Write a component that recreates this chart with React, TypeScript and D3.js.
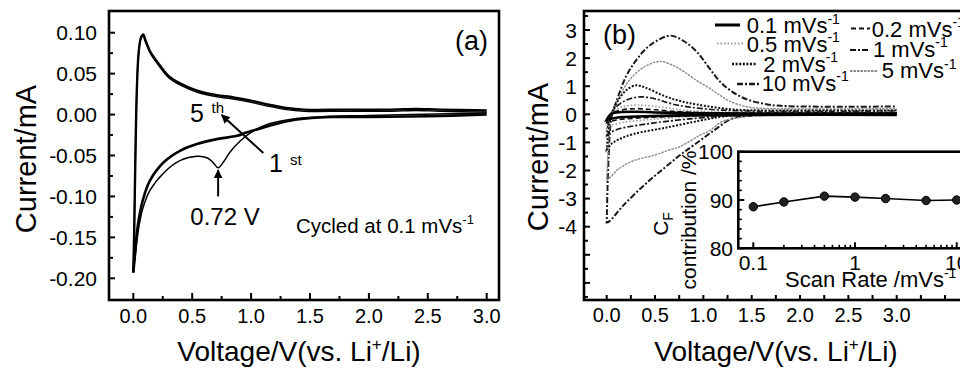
import React from 'react';
import * as d3 from 'd3';

// ---------- Panel (a) data ----------
const aXTicks = [0, 0.5, 1, 1.5, 2, 2.5, 3];
const aXMinor = [0.25, 0.75, 1.25, 1.75, 2.25, 2.75];
const aYTicks = [0.1, 0.05, 0, -0.05, -0.1, -0.15, -0.2];
const aYMinor = [0.075, 0.025, -0.025, -0.075, -0.125, -0.175];

const anodic5: [number, number][] = [
  [0.0, -0.193], [0.008, -0.14], [0.018, -0.05], [0.03, 0.03], [0.045, 0.075], [0.065, 0.094],
  [0.085, 0.098], [0.1, 0.092], [0.14, 0.078], [0.2, 0.065], [0.3, 0.047], [0.4, 0.038],
  [0.55, 0.029], [0.7, 0.024], [0.85, 0.021], [1.0, 0.017], [1.15, 0.012], [1.3, 0.008],
  [1.45, 0.006], [1.8, 0.006], [2.2, 0.006], [2.4, 0.007], [2.6, 0.006], [3.0, 0.005],
];
const anodic1: [number, number][] = [
  [0.0, -0.19], [0.008, -0.14], [0.018, -0.05], [0.03, 0.03], [0.045, 0.074], [0.065, 0.093],
  [0.085, 0.096], [0.1, 0.09], [0.14, 0.076], [0.2, 0.063], [0.3, 0.045], [0.4, 0.036],
  [0.55, 0.027], [0.7, 0.022], [0.85, 0.019], [1.0, 0.015], [1.15, 0.01], [1.3, 0.006],
  [1.45, 0.004], [1.8, 0.004], [2.2, 0.004], [2.4, 0.005], [2.6, 0.004], [3.0, 0.003],
];
const cathodic5: [number, number][] = [
  [3.0, 0.0], [2.5, -0.002], [2.0, -0.003], [1.67, -0.003], [1.39, -0.006], [1.25, -0.01],
  [1.1, -0.016], [0.96, -0.022], [0.88, -0.026], [0.71, -0.03], [0.54, -0.036], [0.4, -0.044],
  [0.26, -0.058], [0.14, -0.081], [0.08, -0.105], [0.05, -0.125], [0.03, -0.145],
  [0.015, -0.17], [0.0, -0.193],
];
const cathodic1: [number, number][] = [
  [3.0, 0.002], [2.0, -0.001], [1.67, -0.002], [1.45, -0.004], [1.33, -0.006], [1.16, -0.011],
  [1.02, -0.02], [0.91, -0.032], [0.82, -0.046], [0.77, -0.057], [0.72, -0.065], [0.68, -0.059],
  [0.63, -0.053], [0.54, -0.051], [0.4, -0.056], [0.26, -0.071], [0.14, -0.093], [0.08, -0.115],
  [0.05, -0.135], [0.03, -0.155], [0.01, -0.18], [0.0, -0.19],
];

// ---------- Panel (b) data ----------
const bXTicks = [0, 0.5, 1, 1.5, 2, 2.5, 3];
const bXMinor = [0.25, 0.75, 1.25, 1.75, 2.25, 2.75, 3.25, 3.5];
const bYTicks = [3, 2, 1, 0, -1, -2, -3, -4];
const bYUnlabeled = [-5, -6];
const scanRates = ['0.1', '0.2', '0.5', '1', '2', '5', '10'];

const anodicB: Record<string, [number, number][]> = {
  '0.1': [[0, -0.2], [0.05, 0.02], [0.15, 0.08], [0.3, 0.09], [0.6, 0.06], [1.0, 0.04], [1.5, 0.03], [3.0, 0.03]],
  '0.2': [[0, -0.3], [0.05, 0.02], [0.15, 0.15], [0.3, 0.2], [0.5, 0.16], [0.8, 0.08], [1.2, 0.05], [3.0, 0.05]],
  '0.5': [[0, -0.5], [0.05, 0.05], [0.15, 0.25], [0.3, 0.33], [0.5, 0.28], [0.8, 0.15], [1.2, 0.08], [3.0, 0.07]],
  '1': [[0, -0.75], [0.03, -0.1], [0.08, 0.2], [0.2, 0.5], [0.35, 0.62], [0.5, 0.55], [0.7, 0.35], [1.0, 0.2], [1.4, 0.12], [3.0, 0.12]],
  '2': [[0, -1.25], [0.03, -0.3], [0.06, 0.1], [0.12, 0.5], [0.2, 0.85], [0.3, 1.03], [0.4, 0.95], [0.59, 0.66], [0.75, 0.48], [0.93, 0.35], [1.28, 0.18], [1.6, 0.14], [3.0, 0.14]],
  '5': [[0, -2.35], [0.02, -1.0], [0.05, 0.0], [0.1, 0.4], [0.22, 1.15], [0.35, 1.6], [0.47, 1.82], [0.56, 1.88], [0.68, 1.75], [0.8, 1.52], [0.93, 1.2], [1.06, 0.94], [1.17, 0.68], [1.27, 0.47], [1.48, 0.25], [1.8, 0.2], [3.0, 0.2]],
  '10': [[0, -3.85], [0.02, -1.5], [0.05, -0.1], [0.1, 0.45], [0.2, 1.35], [0.3, 1.9], [0.41, 2.35], [0.52, 2.62], [0.66, 2.8], [0.8, 2.6], [0.93, 2.23], [1.05, 1.7], [1.17, 1.17], [1.3, 0.8], [1.45, 0.53], [1.65, 0.36], [1.8, 0.3], [2.5, 0.27], [3.0, 0.28]],
};
const cathodicB: Record<string, [number, number][]> = {
  '0.1': [[3.0, -0.02], [1.5, -0.02], [0.8, -0.04], [0.4, -0.07], [0.1, -0.12], [0, -0.2]],
  '0.2': [[3.0, -0.02], [1.2, -0.03], [0.8, -0.06], [0.4, -0.12], [0.1, -0.2], [0, -0.3]],
  '0.5': [[3.0, -0.01], [1.2, -0.04], [0.8, -0.1], [0.4, -0.2], [0.15, -0.3], [0.03, -0.42], [0, -0.5]],
  '1': [[3.0, 0.0], [1.4, -0.03], [1.0, -0.12], [0.7, -0.22], [0.4, -0.35], [0.15, -0.5], [0.03, -0.65], [0, -0.75]],
  '2': [[3.0, 0.02], [1.5, -0.02], [1.2, -0.08], [0.96, -0.23], [0.62, -0.47], [0.28, -0.7], [0.12, -0.9], [0.05, -1.05], [0, -1.25]],
  '5': [[3.0, 0.03], [1.6, -0.02], [1.4, -0.1], [1.2, -0.25], [1.06, -0.59], [0.96, -0.75], [0.76, -1.15], [0.62, -1.3], [0.5, -1.45], [0.28, -1.65], [0.12, -1.95], [0.05, -2.2], [0, -2.35]],
  '10': [[3.0, 0.05], [2.0, 0.0], [1.5, -0.05], [1.3, -0.15], [1.1, -0.6], [0.9, -1.1], [0.76, -1.45], [0.6, -1.9], [0.41, -2.45], [0.17, -3.25], [0.03, -3.8], [0, -3.85]],
};

// ---------- Inset data ----------
const insetRates = [0.1, 0.2, 0.5, 1, 2, 5, 10];
const insetCF = [88.6, 89.6, 90.8, 90.6, 90.3, 89.9, 90.0];
const insetYTicks = [100, 90, 80];
const insetXTicks = [0.1, 1, 10];

const FONT = '"Liberation Sans", Arial, Helvetica, sans-serif';

const styleB: Record<string, { dash?: string; color: string; width: number }> = {
  '0.1': { color: '#000', width: 2.6 },
  '0.2': { color: '#111', width: 1.6, dash: '5,3' },
  '0.5': { color: '#9a9a9a', width: 1.6, dash: '1.5,2' },
  '1': { color: '#111', width: 1.6, dash: '6,2,2,2' },
  '2': { color: '#111', width: 2.0, dash: '2,1.6' },
  '5': { color: '#8c8c8c', width: 1.4, dash: '2.5,1' },
  '10': { color: '#1a1a1a', width: 2.0, dash: '6,2,2,2' },
};

function SupText(props: { x: number; y: number; base: string; sup: string; size: number; supSize?: number; anchor?: string }) {
  const { x, y, base, sup, size } = props;
  const supSize = props.supSize ?? Math.round(size * 0.62);
  return (
    <text x={x} y={y} fontSize={size} fontFamily={FONT} textAnchor={props.anchor ?? 'start'} fill="#000">
      {base}
      <tspan dy={-size * 0.42} fontSize={supSize}>{sup}</tspan>
    </text>
  );
}

export default function App() {
  // Panel a scales
  const xA = d3.scaleLinear().domain([0, 3]).range([133.3, 486.7]);
  const yA = d3.scaleLinear().domain([-0.2, 0.1]).range([278.3, 32.7]);
  const lineA = d3.line<[number, number]>().x(d => xA(d[0])).y(d => yA(d[1])).curve(d3.curveCatmullRom.alpha(0.5));

  // Panel b scales
  const xB = d3.scaleLinear().domain([0, 3]).range([606.7, 896.7]);
  const yB = d3.scaleLinear().domain([-4, 3]).range([226.7, 30]);
  const lineB = d3.line<[number, number]>().x(d => xB(d[0])).y(d => yB(d[1])).curve(d3.curveCatmullRom.alpha(0.5));

  // Inset scales
  const xI = d3.scaleLog().domain([0.1, 10]).range([753.3, 956.7]);
  const yI = d3.scaleLinear().domain([80, 100]).range([248.3, 151.7]);
  const lineI = d3.line<number>().x((_, i) => xI(insetRates[i])).y(d => yI(d));
  const insetMinorX: number[] = [];
  [0.1, 1].forEach(dec => { for (let k = 2; k <= 9; k++) insetMinorX.push(dec * k); });
  insetMinorX.push(20);
  const insetMinorY = d3.range(82, 100, 2).filter(v => v !== 90);

  const aFrame = { x: 109, y: 11, w: 390, h: 289 };
  const bFrame = { x: 584, y: 11, w: 400, h: 289 };
  const iFrame = { x: 738.3, y: 151.7, w: 240, h: 96.6 };

  const bMinorY = d3.range(3.5, -6.6, -0.5).filter(v => !Number.isInteger(v));

  const legendItems = [
    { r: '0.1', x1: 715, x2: 740, ly: 25, tx: 746.7, ty: 33.3 },
    { r: '0.5', x1: 717, x2: 744, ly: 43.5, tx: 746.7, ty: 51.7 },
    { r: '2', x1: 732, x2: 757, ly: 64, tx: 763.3, ty: 71.7 },
    { r: '10', x1: 737, x2: 760, ly: 84, tx: 761.7, ty: 90.7 },
    { r: '0.2', x1: 851, x2: 870, ly: 28.5, tx: 871.7, ty: 36.7 },
    { r: '1', x1: 850, x2: 869, ly: 50, tx: 873, ty: 56.7 },
    { r: '5', x1: 850, x2: 877, ly: 71, tx: 881.7, ty: 78.3 },
  ];

  return (
    <svg width={960} height={369} style={{ position: 'absolute', left: 0, top: 0, background: '#fff' }} fontFamily={FONT}>
      <defs>
        <marker id="arrowHead" viewBox="0 0 10 10" refX="9" refY="5" markerWidth="4.5" markerHeight="4.5" orient="auto-start-reverse">
          <path d="M0,0 L10,5 L0,10 z" fill="#000" />
        </marker>
        <clipPath id="clipB"><rect x={0} y={0} width={960} height={369} /></clipPath>
      </defs>
      <rect x={0} y={0} width={960} height={369} fill="#fff" />

      {/* ===== Panel (a) ===== */}
      <rect x={aFrame.x} y={aFrame.y} width={aFrame.w} height={aFrame.h} fill="none" stroke="#000" strokeWidth={2.6} />
      {aXTicks.map(v => (
        <g key={'axt' + v}>
          <line x1={xA(v)} x2={xA(v)} y1={aFrame.y + aFrame.h} y2={aFrame.y + aFrame.h - 7} stroke="#000" strokeWidth={2} />
          <text x={xA(v)} y={323} fontSize={20} textAnchor="middle">{v.toFixed(1)}</text>
        </g>
      ))}
      {aXMinor.map(v => (
        <line key={'axm' + v} x1={xA(v)} x2={xA(v)} y1={aFrame.y + aFrame.h} y2={aFrame.y + aFrame.h - 4} stroke="#000" strokeWidth={2} />
      ))}
      {aYTicks.map(v => (
        <g key={'ayt' + v}>
          <line x1={aFrame.x} x2={aFrame.x + 6} y1={yA(v)} y2={yA(v)} stroke="#000" strokeWidth={2} />
          <text x={97} y={yA(v) + 7.5} fontSize={21} textAnchor="end">{v.toFixed(2)}</text>
        </g>
      ))}
      {aYMinor.map(v => (
        <line key={'aym' + v} x1={aFrame.x} x2={aFrame.x + 4} y1={yA(v)} y2={yA(v)} stroke="#000" strokeWidth={2} />
      ))}
      <path d={lineA(anodic1) ?? ''} fill="none" stroke="#000" strokeWidth={1.4} />
      <path d={lineA(cathodic1) ?? ''} fill="none" stroke="#000" strokeWidth={1.5} />
      <path d={lineA(anodic5) ?? ''} fill="none" stroke="#000" strokeWidth={2.4} />
      <path d={lineA(cathodic5) ?? ''} fill="none" stroke="#000" strokeWidth={2.6} />

      <text transform="translate(36,159) rotate(-90)" fontSize={29} textAnchor="middle">Current/mA</text>
      <text x={299} y={361} fontSize={28} textAnchor="middle">
        Voltage/V(vs. Li<tspan dy={-11} fontSize={17}>+</tspan><tspan dy={11}>/Li)</tspan>
      </text>
      <text x={455} y={50} fontSize={27}>(a)</text>
      {/* annotations */}
      <text x={190} y={121.7} fontSize={25}>5</text>
      <text x={211.5} y={113} fontSize={15}>th</text>
      <text x={269} y={172} fontSize={25}>1</text>
      <text x={290} y={165} fontSize={15}>st</text>
      <line x1={xA(1.104)} y1={yA(-0.047)} x2={xA(0.75)} y2={yA(-0.0005)} stroke="#000" strokeWidth={2} markerEnd="url(#arrowHead)" />
      <line x1={xA(0.72)} y1={yA(-0.1)} x2={xA(0.72)} y2={yA(-0.068)} stroke="#000" strokeWidth={2} markerEnd="url(#arrowHead)" />
      <text x={225} y={225} fontSize={24} textAnchor="middle">0.72 V</text>
      <SupText x={296} y={233} base="Cycled at 0.1 mVs" sup="-1" size={20.5} supSize={13} />

      {/* ===== Panel (b) ===== */}
      <g clipPath="url(#clipB)">
        <rect x={bFrame.x} y={bFrame.y} width={bFrame.w} height={bFrame.h} fill="none" stroke="#000" strokeWidth={2.6} />
        {bXTicks.map(v => (
          <g key={'bxt' + v}>
            <line x1={xB(v)} x2={xB(v)} y1={bFrame.y + bFrame.h} y2={bFrame.y + bFrame.h - 5} stroke="#000" strokeWidth={2} />
            <text x={xB(v)} y={322} fontSize={20} textAnchor="middle">{v.toFixed(1)}</text>
          </g>
        ))}
        {bXMinor.map(v => (
          <line key={'bxm' + v} x1={xB(v)} x2={xB(v)} y1={bFrame.y + bFrame.h} y2={bFrame.y + bFrame.h - 5} stroke="#000" strokeWidth={2} />
        ))}
        {bYTicks.map(v => (
          <g key={'byt' + v}>
            <line x1={bFrame.x} x2={bFrame.x + 6} y1={yB(v)} y2={yB(v)} stroke="#000" strokeWidth={2} />
            <text x={577} y={yB(v) + 7.5} fontSize={21} textAnchor="end">{String(v)}</text>
          </g>
        ))}
        {bYUnlabeled.map(v => (
          <line key={'byu' + v} x1={bFrame.x} x2={bFrame.x + 6} y1={yB(v)} y2={yB(v)} stroke="#000" strokeWidth={2} />
        ))}
        {bMinorY.map(v => (
          <line key={'bym' + v} x1={bFrame.x} x2={bFrame.x + 4} y1={yB(v)} y2={yB(v)} stroke="#000" strokeWidth={2} />
        ))}

        {scanRates.slice().reverse().map(r => {
          const s = styleB[r];
          const pts = [...cathodicB[r], ...anodicB[r]];
          return (
            <path key={'cv' + r} d={lineB(pts) ?? ''} fill="none" stroke={s.color} strokeWidth={s.width} strokeDasharray={s.dash} />
          );
        })}

        {/* legend */}
        {legendItems.map(it => {
          const s = styleB[it.r];
          return (
            <g key={'lg' + it.r}>
              <line x1={it.x1} x2={it.x2} y1={it.ly} y2={it.ly} stroke={s.color} strokeWidth={s.width + 0.4} strokeDasharray={s.dash} />
              <SupText x={it.tx} y={it.ty} base={`${it.r} mVs`} sup="-1" size={22} supSize={14} />
            </g>
          );
        })}

        <text transform="translate(548,157) rotate(-90)" fontSize={29} textAnchor="middle">Current/mA</text>
        <text x={776} y={361} fontSize={28} textAnchor="middle">
          Voltage/V(vs. Li<tspan dy={-11} fontSize={17}>+</tspan><tspan dy={11}>/Li)</tspan>
        </text>
        <text x={603} y={44} fontSize={27}>(b)</text>

        {/* ===== Inset ===== */}
        <rect x={iFrame.x} y={iFrame.y} width={iFrame.w} height={iFrame.h} fill="#fff" stroke="#000" strokeWidth={2.6} />
        {insetXTicks.map(v => (
          <g key={'ixt' + v}>
            <line x1={xI(v)} x2={xI(v)} y1={iFrame.y + iFrame.h} y2={iFrame.y + iFrame.h - 6} stroke="#000" strokeWidth={2} />
            <text x={xI(v)} y={270} fontSize={21} textAnchor="middle">{String(v)}</text>
          </g>
        ))}
        {insetMinorX.map(v => (
          <line key={'ixm' + v} x1={xI(v)} x2={xI(v)} y1={iFrame.y + iFrame.h} y2={iFrame.y + iFrame.h - 3.5} stroke="#000" strokeWidth={1.6} />
        ))}
        {insetYTicks.map(v => (
          <g key={'iyt' + v}>
            <line x1={iFrame.x} x2={iFrame.x + 6} y1={yI(v)} y2={yI(v)} stroke="#000" strokeWidth={2} />
            <text x={733} y={yI(v) + 7.5} fontSize={21} textAnchor="end">{String(v)}</text>
          </g>
        ))}
        {insetMinorY.map(v => (
          <line key={'iym' + v} x1={iFrame.x} x2={iFrame.x + 3.5} y1={yI(v)} y2={yI(v)} stroke="#000" strokeWidth={1.6} />
        ))}
        <path d={lineI(insetCF) ?? ''} fill="none" stroke="#000" strokeWidth={1.6} />
        {insetCF.map((v, i) => (
          <circle key={'ip' + i} cx={xI(insetRates[i])} cy={yI(v)} r={4.2} fill="#222" stroke="#000" strokeWidth={1} />
        ))}
        <SupText x={785} y={287} base="Scan Rate /mVs" sup="-1" size={22} supSize={14} />
        <text transform="translate(668,224) rotate(-90)" fontSize={21} textAnchor="middle">
          C<tspan dy={5} fontSize={14}>F</tspan>
        </text>
        <text transform="translate(696,220) rotate(-90)" fontSize={21} textAnchor="middle">contribution /%</text>
      </g>
    </svg>
  );
}
